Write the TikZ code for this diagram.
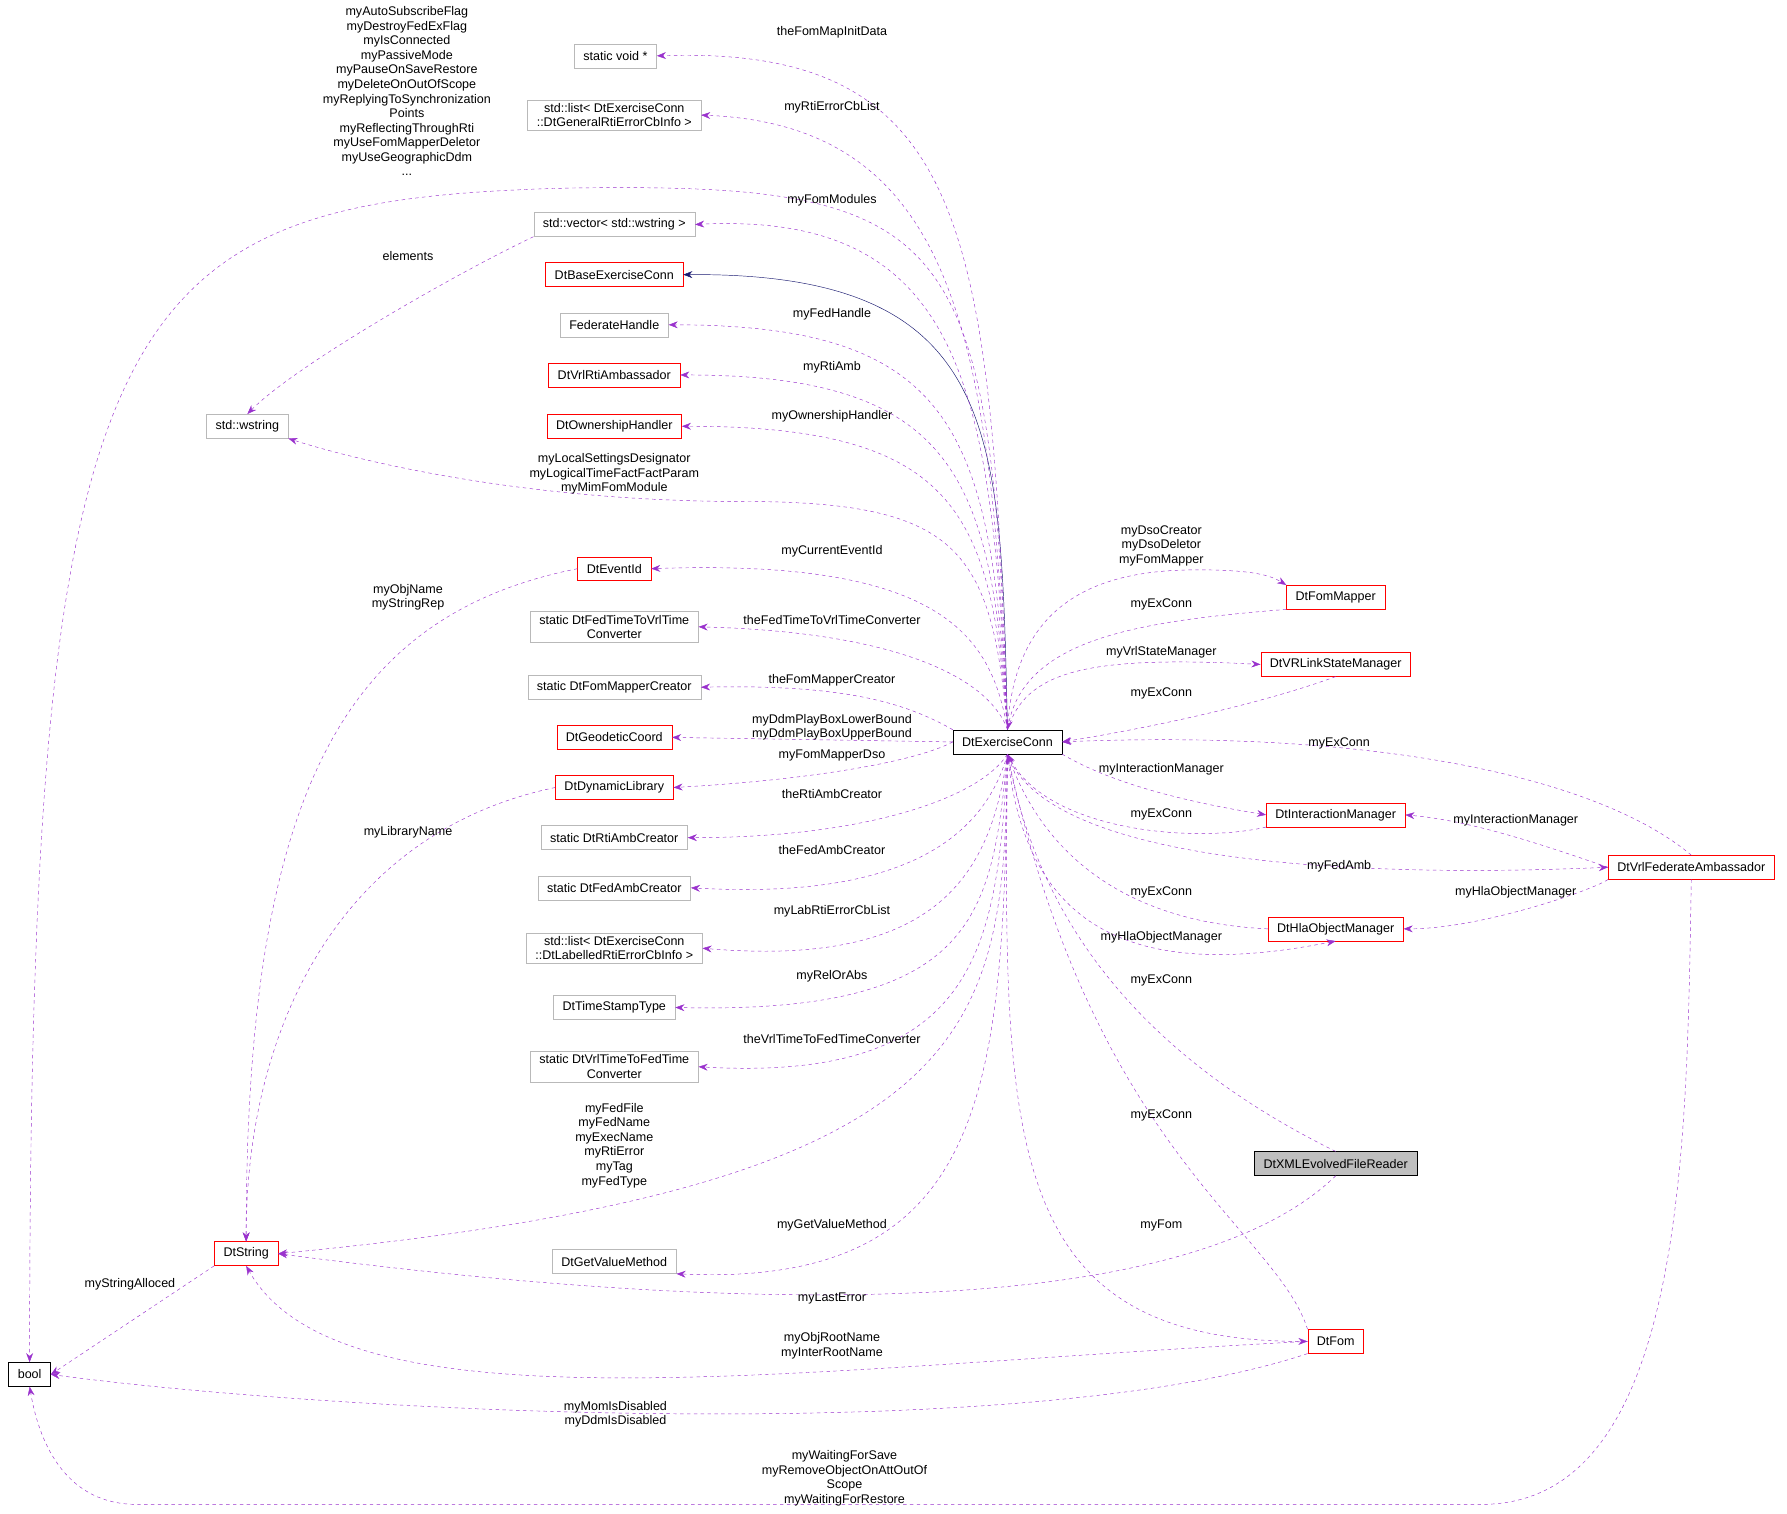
\documentclass[tikz,border=0pt]{standalone}
\usepackage{fontspec}
\setmainfont{Liberation Sans}
\usetikzlibrary{arrows.meta}
\definecolor{dep}{HTML}{9A32CD}
\definecolor{inh}{HTML}{191970}
\begin{document}
\begin{tikzpicture}[x=1pt,y=-1pt,font=\fontsize{11}{12.8}\selectfont,
 box/.style={draw,rectangle,inner xsep=8pt,inner ysep=3pt,minimum height=21pt,align=center,fill=white},
 gb/.style={box,draw=gray!55},
 rb/.style={box,draw=red},
 kb/.style={box,draw=black},
 d/.style={draw=dep,dashed,-{Stealth[length=8pt,width=6pt]}},
 lb/.style={align=center,inner sep=1pt}]
\useasboundingbox (0,0) rectangle (1568,1328);
% nodes
\node[kb] (bool) at (26,1206) {bool};
\node[gb] (void) at (540,49) {static void *};
\node[gb] (l1) at (539,101) {std::list< DtExerciseConn\\::DtGeneralRtiErrorCbInfo >};
\node[gb] (vec) at (539,197) {std::vector< std::wstring >};
\node[rb] (base) at (539,241) {DtBaseExerciseConn};
\node[gb] (fh) at (539,285) {FederateHandle};
\node[rb] (vra) at (539,329) {DtVrlRtiAmbassador};
\node[rb] (oh) at (539,374) {DtOwnershipHandler};
\node[gb] (ws) at (217,374) {std::wstring};
\node[rb] (eid) at (539,499) {DtEventId};
\node[gb] (f2v) at (539,550) {static DtFedTimeToVrlTime\\Converter};
\node[gb] (fmc) at (539,603) {static DtFomMapperCreator};
\node[rb] (geo) at (539,647) {DtGeodeticCoord};
\node[rb] (dyn) at (539,691) {DtDynamicLibrary};
\node[gb] (rac) at (539,735) {static DtRtiAmbCreator};
\node[gb] (fac) at (539,779) {static DtFedAmbCreator};
\node[gb] (l2) at (539,832) {std::list< DtExerciseConn\\::DtLabelledRtiErrorCbInfo >};
\node[gb] (ts) at (539,884) {DtTimeStampType};
\node[gb] (v2f) at (539,936) {static DtVrlTimeToFedTime\\Converter};
\node[gb] (gvm) at (539,1107) {DtGetValueMethod};
\node[rb] (str) at (216,1100) {DtString};
\node[kb] (ec) at (884,651) {DtExerciseConn};
\node[rb] (fm) at (1172,524) {DtFomMapper};
\node[rb] (vsm) at (1172,583) {DtVRLinkStateManager};
\node[rb] (im) at (1172,715) {DtInteractionManager};
\node[rb] (fa) at (1484,761) {DtVrlFederateAmbassador};
\node[rb] (hom) at (1172,815) {DtHlaObjectManager};
\node[kb,fill=gray!50] (xml) at (1172,1021) {DtXMLEvolvedFileReader};
\node[rb] (fom) at (1172,1177) {DtFom};
% inheritance
\draw[inh,-{Stealth[length=8pt,width=6pt]}] (ec.north) .. controls (878,380) and (880,239) .. (base.east);
% upper edges
\draw[d] (ec.north) .. controls (870,200) and (850,40) .. (void.east);
\draw[d] (ec.north) .. controls (870,300) and (840,110) .. (l1.east);
\draw[d] (ec.north) .. controls (870,350) and (850,185) .. (vec.east);
\draw[d] (ec.north) .. controls (870,380) and (840,285) .. (fh.east);
\draw[d] (ec.north) .. controls (870,420) and (840,329) .. (vra.east);
\draw[d] (ec.north) .. controls (870,450) and (840,374) .. (oh.east);
\draw[d] (ec.north) .. controls (870,200) and (840,160) .. (500,165) .. controls (100,175) and (26,260) .. (bool.north);
\draw[d] (ec.north) .. controls (870,480) and (840,440) .. (650,440) .. controls (450,440) and (300,400) .. (ws.south east);
\draw[d] (ec.north) .. controls (870,560) and (830,490) .. (eid.east);
\draw[d] (ec.north) .. controls (870,600) and (800,555) .. (f2v.east);
\draw[d] (ec.north west) .. controls (800,620) and (750,600) .. (fmc.east);
\draw[d] (ec.west) -- (geo.east);
\draw[d] (ec.west) .. controls (800,670) and (700,685) .. (dyn.east);
% lower
\draw[d] (ec.south) .. controls (860,700) and (760,735) .. (rac.east);
\draw[d] (ec.south) .. controls (865,730) and (800,790) .. (fac.east);
\draw[d] (ec.south) .. controls (870,760) and (830,850) .. (l2.east);
\draw[d] (ec.south) .. controls (870,800) and (860,890) .. (ts.east);
\draw[d] (ec.south) .. controls (875,830) and (860,950) .. (v2f.east);
\draw[d] (ec.south) .. controls (880,900) and (870,1040) .. (str.east);
\draw[d] (ec.south) .. controls (880,950) and (870,1130) .. (gvm.south east);
% other left
\draw[d] (vec.south west) .. controls (400,240) and (260,320) .. (ws.north);
\draw[d] (eid.west) .. controls (300,540) and (216,700) .. (str.north);
\draw[d] (dyn.west) .. controls (300,730) and (216,900) .. (str.north);
\draw[d] (str.south west) -- (bool.east);
\draw[d] (xml.south) .. controls (1050,1150) and (700,1160) .. (str.east);
\draw[d] (fom.west) .. controls (700,1200) and (300,1260) .. (str.south);
\draw[d] (fom.south west) .. controls (900,1270) and (300,1240) .. (bool.east);
\draw[d] (fa.south) .. controls (1480,1000) and (1480,1320) .. (1300,1320) -- (120,1320) .. controls (60,1320) and (35,1270) .. (bool.south);
% right
\draw[d] (ec.north) .. controls (890,530) and (960,500) .. (1050,500) .. controls (1100,500) and (1115,505) .. (fm.north west);
\draw[d] (fm.south west) .. controls (1000,545) and (900,560) .. (ec.north);
\draw[d] (ec.north) .. controls (900,590) and (950,575) .. (vsm.west);
\draw[d] (vsm.south) .. controls (1100,620) and (1000,640) .. (ec.east);
\draw[d] (fa.north) .. controls (1400,680) and (1200,640) .. (ec.east);
\draw[d] (ec.south east) .. controls (980,690) and (1050,705) .. (im.west);
\draw[d] (im.south west) .. controls (1050,740) and (920,730) .. (ec.south);
\draw[d] (ec.south) .. controls (920,760) and (1200,770) .. (fa.west);
\draw[d] (fa.west) .. controls (1350,740) and (1290,720) .. (im.east);
\draw[d] (fa.south west) .. controls (1400,780) and (1300,815) .. (hom.east);
\draw[d] (hom.west) .. controls (1000,810) and (920,760) .. (ec.south);
\draw[d] (ec.south) .. controls (900,820) and (1000,860) .. (hom.south);
\draw[d] (xml.north) .. controls (1050,950) and (920,850) .. (ec.south);
\draw[d] (fom.north west) .. controls (1120,1080) and (960,1010) .. (ec.south);
\draw[d] (ec.south) .. controls (880,1000) and (880,1177) .. (fom.west);
% labels
\node[lb] at (357,80) {myAutoSubscribeFlag\\myDestroyFedExFlag\\myIsConnected\\myPassiveMode\\myPauseOnSaveRestore\\myDeleteOnOutOfScope\\myReplyingToSynchronization\\Points\\myReflectingThroughRti\\myUseFomMapperDeletor\\myUseGeographicDdm\\...};
\node[lb] at (730,28) {theFomMapInitData};
\node[lb] at (730,94) {myRtiErrorCbList};
\node[lb] at (730,176) {myFomModules};
\node[lb] at (358,225) {elements};
\node[lb] at (730,276) {myFedHandle};
\node[lb] at (730,322) {myRtiAmb};
\node[lb] at (730,365) {myOwnershipHandler};
\node[lb] at (539,416) {myLocalSettingsDesignator\\myLogicalTimeFactFactParam\\myMimFomModule};
\node[lb] at (730,484) {myCurrentEventId};
\node[lb] at (358,524) {myObjName\\myStringRep};
\node[lb] at (730,544) {theFedTimeToVrlTimeConverter};
\node[lb] at (730,597) {theFomMapperCreator};
\node[lb] at (730,638) {myDdmPlayBoxLowerBound\\myDdmPlayBoxUpperBound};
\node[lb] at (730,663) {myFomMapperDso};
\node[lb] at (730,697) {theRtiAmbCreator};
\node[lb] at (358,730) {myLibraryName};
\node[lb] at (730,746) {theFedAmbCreator};
\node[lb] at (730,800) {myLabRtiErrorCbList};
\node[lb] at (730,857) {myRelOrAbs};
\node[lb] at (730,912) {theVrlTimeToFedTimeConverter};
\node[lb] at (539,1005) {myFedFile\\myFedName\\myExecName\\myRtiError\\myTag\\myFedType};
\node[lb] at (730,1075) {myGetValueMethod};
\node[lb] at (114,1127) {myStringAlloced};
\node[lb] at (730,1139) {myLastError};
\node[lb] at (730,1181) {myObjRootName\\myInterRootName};
\node[lb] at (540,1241) {myMomIsDisabled\\myDdmIsDisabled};
\node[lb] at (741,1297) {myWaitingForSave\\myRemoveObjectOnAttOutOf\\Scope\\myWaitingForRestore};
\node[lb] at (1019,479) {myDsoCreator\\myDsoDeletor\\myFomMapper};
\node[lb] at (1019,530) {myExConn};
\node[lb] at (1019,572) {myVrlStateManager};
\node[lb] at (1019,608) {myExConn};
\node[lb] at (1175,652) {myExConn};
\node[lb] at (1019,675) {myInteractionManager};
\node[lb] at (1019,715) {myExConn};
\node[lb] at (1330,720) {myInteractionManager};
\node[lb] at (1175,760) {myFedAmb};
\node[lb] at (1330,783) {myHlaObjectManager};
\node[lb] at (1019,783) {myExConn};
\node[lb] at (1019,822) {myHlaObjectManager};
\node[lb] at (1019,860) {myExConn};
\node[lb] at (1019,979) {myExConn};
\node[lb] at (1019,1075) {myFom};
\end{tikzpicture}
\end{document}
